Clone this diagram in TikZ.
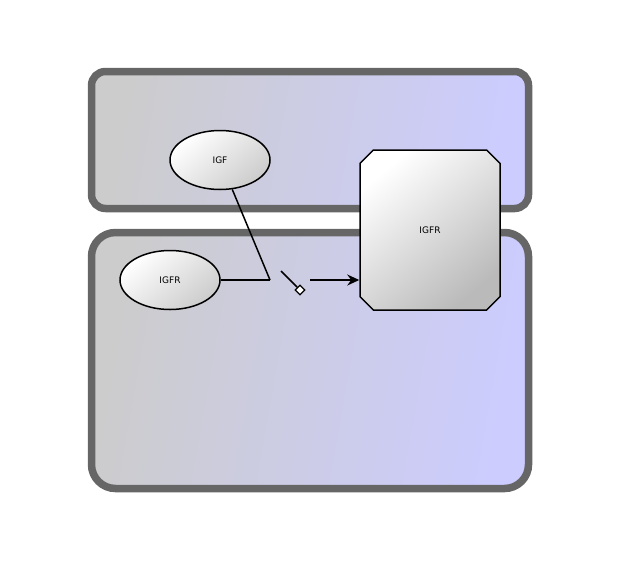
\documentclass[tikz,border=0pt]{standalone}
\usepackage{fontspec}
\setmainfont{DejaVu Sans}
\usetikzlibrary{shapes.geometric,shapes.misc,arrows.meta}
\definecolor{compgray}{RGB}{102,102,102}
\definecolor{leftfill}{RGB}{204,204,204}
\definecolor{rightfill}{RGB}{204,204,255}
\tikzset{
  comp/.style={draw=compgray, line width=7.5pt, left color=leftfill, right color=rightfill, shading angle=80},
  species/.style={ellipse, draw=black, line width=1.5pt, minimum width=100pt, minimum height=59pt, inner sep=0pt,
    top color=white, bottom color=black!20, shading angle=40,
    font=\fontsize{9}{10}\selectfont},
  macro/.style={chamfered rectangle, chamfered rectangle xsep=10pt, chamfered rectangle ysep=10pt, draw=black, line width=1.5pt,
    minimum width=140pt, minimum height=160pt, inner sep=0pt,
    top color=white, bottom color=black!27, shading angle=40, font=\fontsize{9}{10}\selectfont},
  conn/.style={line width=1.5pt, black},
  port/.style={diamond, draw=black, line width=1.2pt, fill=white, minimum size=10pt, inner sep=0pt}
}
\begin{document}
\begin{tikzpicture}[x=1pt,y=-1pt]
\useasboundingbox (0,0) rectangle (620,560);
\draw[comp, rounded corners=14pt] (91.5,71.5) rectangle (528.5,208.5);
\draw[comp, rounded corners=24pt] (91.5,232.5) rectangle (528.5,488.5);
\node[species] (igf) at (220,160) {IGF};
\node[species] (igfr1) at (170,280) {IGFR};
\node[macro] (igfr2) at (430,230) {IGFR};
\coordinate (junc) at (270,280);
\coordinate (sw) at (281,271);
\node[port] (dia) at (300,290) {};
\coordinate (arrstart) at (310,280);
\draw[conn] (igf) -- (junc);
\draw[conn] (igfr1) -- (junc);
\draw[conn] (sw) -- (dia.north west);
\draw[conn, -{Stealth[length=12pt,width=11pt]}] (arrstart) -- (igfr2.west |- arrstart);
\end{tikzpicture}
\end{document}
